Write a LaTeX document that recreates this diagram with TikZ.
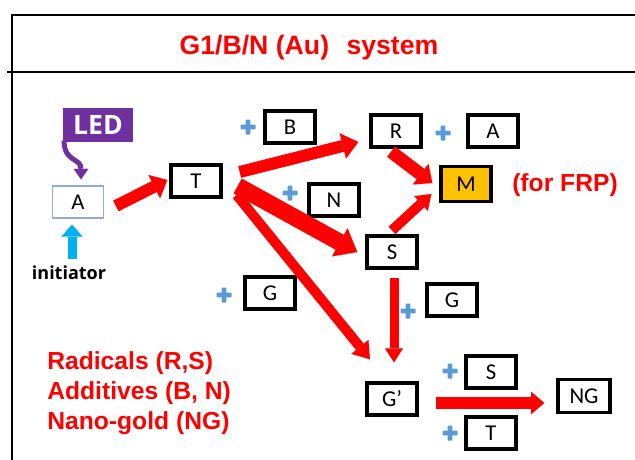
\documentclass[tikz,border=0pt]{standalone}
\usepackage{fontspec}
\setmainfont{Liberation Sans}
\newfontfamily\boxfont{Carlito}
\newfontfamily\labfont{Open Sans}
\usetikzlibrary{arrows.meta,calc}
\definecolor{frpred}{RGB}{255,0,0}
\definecolor{ledpurple}{RGB}{112,48,160}
\definecolor{plusblue}{RGB}{91,155,213}
\definecolor{initblue}{RGB}{0,176,240}
\definecolor{mgold}{RGB}{255,192,0}
\definecolor{aborder}{RGB}{143,170,220}
\tikzset{
  species/.style={draw=black, line width=2.5pt, minimum width=37.5pt,
    minimum height=24pt, inner sep=0pt,
    font=\boxfont\fontsize{17}{17}\selectfont},
  redtext/.style={text=frpred, inner sep=0pt,
    font=\bfseries\fontsize{18.5}{22}\selectfont},
  fatarrow/.style n args={3}{draw=frpred, line width=#1,
    -{Triangle[length=#2, width=#3, line width=0.01pt]}},
  frame/.style={line width=2.2pt, black},
  pics/plusmark/.style={code={
    \fill[plusblue, rounded corners=0.6pt] (-7.5,-2.4) rectangle (7.5,2.4);
    \fill[plusblue, rounded corners=0.6pt] (-2.4,-7.5) rectangle (2.4,7.5);}}
}
\begin{document}
\begin{tikzpicture}[x=0.75pt,y=-0.75pt]
\useasboundingbox (0,0) rectangle (635,460);

% frame and title bar
\draw[frame] (12,460) -- (12,15) -- (640,15);
\draw[frame] (7,72) -- (640,72);
\node[text=frpred, font=\bfseries\fontsize{20}{24}\selectfont, inner sep=0pt]
  (title) at (309,48) {G1/B/N (Au)\hspace{13pt}system};

% light source and initiator
\node[fill=ledpurple, minimum width=52pt, minimum height=26pt, inner sep=0pt,
  text=white, font=\labfont\bfseries\fontsize{20}{20}\selectfont] (LED) at (98,125) {LED};
\node[draw=aborder, line width=0.8pt, minimum width=38pt, minimum height=24pt,
  inner sep=0pt, font=\boxfont\fontsize{17}{17}\selectfont] (A) at (78,202) {A};
\node[font=\labfont\bfseries\fontsize{13.5}{14}\selectfont, inner sep=0pt]
  (init) at (69,273) {initiator};

\draw[ledpurple, line width=3.75pt, -{Triangle[length=8pt, width=11pt, line width=0.01pt]}]
  ($(LED.south west)+(1,-2)$) .. controls ($(LED.south west)+(1,20)$)
  and ($(A.north)+(3,-28)$) .. ($(A.north)+(3,-6)$);
\draw[initblue, line width=6.75pt, -{Triangle[length=9pt, width=15.75pt, line width=0.01pt]}]
  ($(A.south)+(-6,40)$) -- ($(A.south)+(-6,6)$);

% species boxes
\node[species] (T)  at (196,181) {T};
\node[species] (B)  at (290,127) {B};
\node[species] (R)  at (396,131) {R};
\node[species] (A2) at (493,131) {A};
\node[species, fill=mgold, minimum height=26pt] (M) at (466,184) {M};
\node[species] (N)  at (334,200) {N};
\node[species] (S)  at (392,252) {S};
\node[species] (G)  at (270,293) {G};
\node[species] (G2) at (452,300) {G};
\node[species] (Gp) at (392,399) {G’};
\node[species] (S2) at (491,372) {S};
\node[species] (T2) at (491,433) {T};
\node[species, minimum width=39pt, minimum height=25pt] (NG) at (584,396) {NG};

% plus signs next to the added species
\pic at (248,127) {plusmark};
\pic at (443,133) {plusmark};
\pic at (290,193) {plusmark};
\pic at (224,295) {plusmark};
\pic at (408,311) {plusmark};
\pic at (450,371) {plusmark};
\pic at (450,433) {plusmark};

% labels
\node[redtext] (frp) at (565,185) {(for FRP)};
\node[redtext, anchor=west] (leg1) at (47,363) {Radicals (R,S)};
\node[redtext, anchor=west] (leg2) at (47,393) {Additives (B, N)};
\node[redtext, anchor=west] (leg3) at (47,423) {Nano-gold (NG)};

% reaction arrows
\draw[fatarrow={9pt}{11pt}{19.5pt}] ($(A.east)+(12,4)$) -- ($(T.west)+(-2,-1)$);
\draw[fatarrow={9pt}{12pt}{19.5pt}] ($(T.east)+(17,-9)$) -- ($(R.west)+(-11,11)$);
\draw[fatarrow={12.75pt}{15pt}{24pt}] ($(T.east)+(15,5)$) -- ($(S.west)+(-8,0)$);
\draw[fatarrow={7.5pt}{12pt}{16.5pt}] ($(T.east)+(14,14)$) -- ($(Gp.north)+(-22,-22)$);
\draw[fatarrow={9.75pt}{11pt}{19.5pt}] ($(R.south)+(-5,3)$) -- ($(M.west)+(-7,-1)$);
\draw[fatarrow={7.5pt}{10.5pt}{15pt}] ($(S.north)+(0,-4)$) -- ($(M.west)+(-8,10)$);
\draw[fatarrow={6.75pt}{10.5pt}{13.5pt}] ($(S.south)+(2,8)$) -- ($(Gp.north)+(2,-19)$);
\draw[fatarrow={9pt}{10pt}{17pt}] ($(Gp.east)+(17,4)$) -- ($(NG.west)+(-12,7)$);
\end{tikzpicture}
\end{document}
